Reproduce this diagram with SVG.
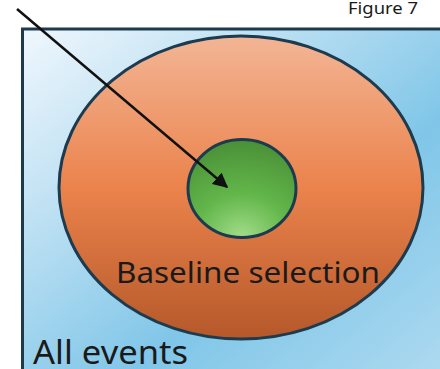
<svg xmlns="http://www.w3.org/2000/svg" width="440" height="369" viewBox="0 0 440 369">
<defs>
<linearGradient id="bg" x1="0" y1="0" x2="1" y2="1" gradientUnits="objectBoundingBox">
<stop offset="0" stop-color="#f0f7fd"/>
<stop offset="0.25" stop-color="#c4e3f4"/>
<stop offset="0.6" stop-color="#80c6e8"/>
<stop offset="1" stop-color="#b3dcf1"/>
</linearGradient>
<linearGradient id="org" x1="0" y1="0" x2="0" y2="1">
<stop offset="0" stop-color="#f3b595"/>
<stop offset="0.5" stop-color="#eb834c"/>
<stop offset="1" stop-color="#b5582a"/>
</linearGradient>
<radialGradient id="grn" cx="0.5" cy="1" r="1" fx="0.5" fy="1">
<stop offset="0" stop-color="#a3dd8a"/>
<stop offset="0.45" stop-color="#62b64a"/>
<stop offset="1" stop-color="#4a8f37"/>
</radialGradient>
<marker id="ah" viewBox="0 0 10 10" refX="9" refY="5" markerWidth="6" markerHeight="6" orient="auto" markerUnits="strokeWidth">
<path d="M0,0 L10,5 L0,10 z" fill="#111"/>
</marker>
<style>
.shape{stroke:#1d3b4f;stroke-width:3}
.t{font-family:"Noto Sans","Open Sans",sans-serif;fill:#1a1a1a}
</style>
</defs>
<text class="t" x="348" y="14" font-size="16" textLength="70" lengthAdjust="spacingAndGlyphs">Figure 7</text>
<g id="all-events">
<rect class="shape" x="22.5" y="29" width="440" height="360" fill="url(#bg)"/>
<text class="t" x="33" y="364" font-size="32" textLength="155" lengthAdjust="spacingAndGlyphs">All events</text>
</g>
<g id="baseline-selection">
<ellipse class="shape" cx="241" cy="187.5" rx="182" ry="151.5" fill="url(#org)"/>
<text class="t" x="116" y="283" font-size="29" textLength="264" lengthAdjust="spacingAndGlyphs">Baseline selection</text>
</g>
<g id="inner">
<ellipse class="shape" cx="242" cy="188.5" rx="54" ry="49" fill="url(#grn)"/>
</g>
<g id="connectors">
<line x1="17" y1="9" x2="227" y2="187" stroke="#111" stroke-width="2.5" marker-end="url(#ah)"/>
</g>
</svg>
